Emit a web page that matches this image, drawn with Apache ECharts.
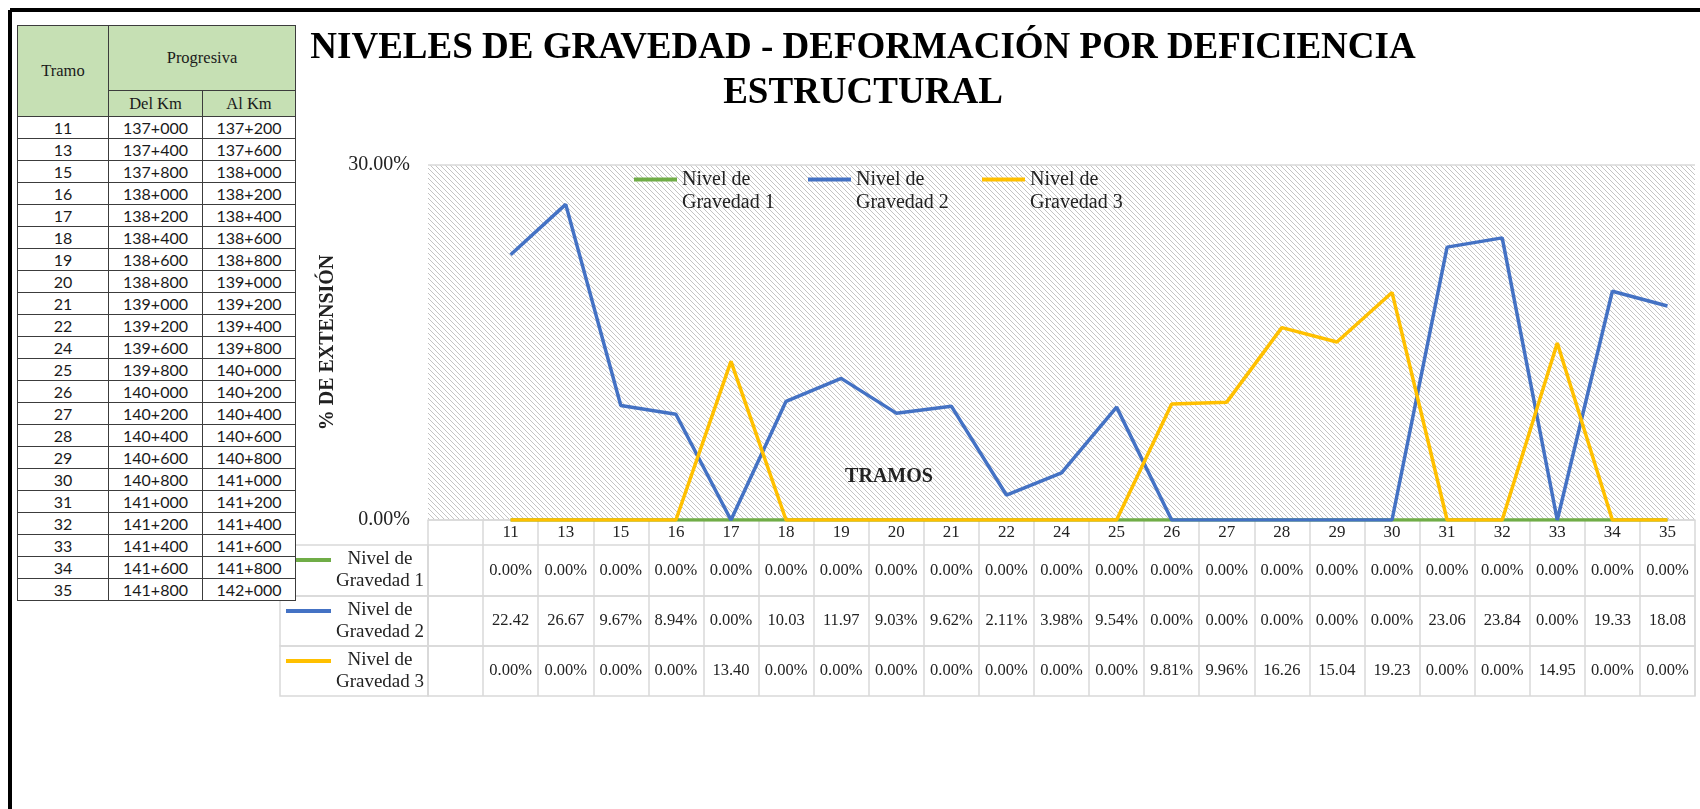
<!DOCTYPE html>
<html>
<head>
<meta charset="utf-8">
<script src="https://cdn.jsdelivr.net/npm/echarts/dist/echarts.min.js"></script>
<style>
  html, body { margin: 0; padding: 0; background: #fff; }
  #wrap { position: relative; width: 1700px; height: 809px; overflow: hidden; }
  #chart { position: absolute; left: 0; top: 0; width: 1700px; height: 809px; }
  #tabla { position: absolute; left: 17px; top: 25px; border-collapse: collapse; table-layout: fixed; background: #fff; }
  #tabla td, #tabla th { border: 1px solid #3c3c3c; padding: 0; text-align: center; color: #1a1a1a; }
  #tabla th { background: #c6e0b4; font-family: 'Liberation Serif', serif; font-weight: normal; font-size: 16.5px; }
  #tabla td { font-family: Lato, sans-serif; font-size: 16px; }
  #tabla tr.h1 { height: 65px; }
  #tabla tr.h2 { height: 26px; }
  #tabla tr.fila { height: 22px; }
</style>
</head>
<body>
<div id="wrap">
  <div id="chart"></div>
  <table id="tabla"></table>
</div>
<script>
// datos
var tramos = ['11', '13', '15', '16', '17', '18', '19', '20', '21', '22', '24', '25', '26', '27', '28', '29', '30', '31', '32', '33', '34', '35'];
var delKm = ['137+000', '137+400', '137+800', '138+000', '138+200', '138+400', '138+600', '138+800', '139+000', '139+200', '139+600',
             '139+800', '140+000', '140+200', '140+400', '140+600', '140+800', '141+000', '141+200', '141+400', '141+600', '141+800'];
var alKm = ['137+200', '137+600', '138+000', '138+200', '138+400', '138+600', '138+800', '139+000', '139+200', '139+400', '139+800',
            '140+000', '140+200', '140+400', '140+600', '140+800', '141+000', '141+200', '141+400', '141+600', '141+800', '142+000'];
var nivel1 = [0, 0, 0, 0, 0, 0, 0, 0, 0, 0, 0, 0, 0, 0, 0, 0, 0, 0, 0, 0, 0, 0];
var nivel2 = [22.42, 26.67, 9.67, 8.94, 0, 10.03, 11.97, 9.03, 9.62, 2.11, 3.98, 9.54, 0, 0, 0, 0, 0, 23.06, 23.84, 0, 19.33, 18.08];
var nivel3 = [0, 0, 0, 0, 13.40, 0, 0, 0, 0, 0, 0, 0, 9.81, 9.96, 16.26, 15.04, 19.23, 0, 0, 14.95, 0, 0];
var nombres = ['Nivel de\nGravedad 1', 'Nivel de\nGravedad 2', 'Nivel de\nGravedad 3'];
var colores = ['#70ad47', '#4472c4', '#ffc000'];
var yTicks = [0, 30];

var niveles = [nivel1, nivel2, nivel3];
var ejeX = [''].concat(tramos);   // first column of the chart is empty
var serif = 'Liberation Serif';
var gris = '#d9d9d9';

// left table
var html = '<colgroup><col style="width:91px"><col style="width:94px"><col style="width:93px"></colgroup>';
html += '<tr class="h1"><th rowspan="2">Tramo</th><th colspan="2">Progresiva</th></tr>';
html += '<tr class="h2"><th>Del Km</th><th>Al Km</th></tr>';
for (var i = 0; i < tramos.length; i++) {
  html += '<tr class="fila"><td>' + tramos[i] + '</td><td>' + delKm[i] + '</td><td>' + alKm[i] + '</td></tr>';
}
document.getElementById('tabla').innerHTML = html;

// hatch fill like the excel plot area
var patron = document.createElement('canvas');
patron.width = 5; patron.height = 5;
var ctx = patron.getContext('2d');
ctx.fillStyle = '#fff';
ctx.fillRect(0, 0, 5, 5);
ctx.strokeStyle = '#c4c4c4';
ctx.lineWidth = 1;
[-5, 0, 5].forEach(function (k) {
  ctx.beginPath(); ctx.moveTo(k, 0); ctx.lineTo(k + 5, 5); ctx.stroke();
});

function fmt(v) {
  // excel cuts the % off when the column is too narrow
  return v >= 10 ? v.toFixed(2) : v.toFixed(2) + '%';
}

var filas = [{ top: 545, h: 51 }, { top: 596, h: 50 }, { top: 646, h: 50 }];
var gLeft = 428, gWidth = 1267;

var grids = [{ left: gLeft, top: 165, width: gWidth, height: 355, show: true,
  backgroundColor: { image: patron, repeat: 'repeat' }, borderWidth: 0, outerBoundsMode: 'none' }];
var xAxes = [{
  gridIndex: 0, type: 'category', data: ejeX, boundaryGap: true,
  axisLine: { lineStyle: { color: gris, width: 1.5 } },
  axisTick: { show: true, interval: 0, length: 25, lineStyle: { color: gris, width: 1.5 } },
  axisLabel: { interval: 0, margin: 13, verticalAlign: 'middle', fontFamily: serif, fontSize: 17, color: '#222' },
  splitLine: { show: false }
}];
var yAxes = [{
  gridIndex: 0, type: 'value', min: yTicks[0], max: yTicks[1], interval: yTicks[1] - yTicks[0],
  axisLine: { show: false }, axisTick: { show: false },
  axisLabel: { formatter: function (v) { return v.toFixed(2) + '%'; }, fontFamily: serif, fontSize: 20, color: '#222', margin: 18 },
  splitLine: { show: true, lineStyle: { color: gris, width: 1.5 } },
  name: '% DE EXTENSIÓN', nameLocation: 'middle', nameGap: 88, nameRotate: 90,
  nameTextStyle: { fontFamily: serif, fontWeight: 'bold', fontSize: 20, color: '#222' }
}];
var graficos = [
  { type: 'line', shape: { x1: 10, y1: 10, x2: 1700, y2: 10 }, style: { stroke: '#000', lineWidth: 4 } },
  { type: 'line', shape: { x1: 10, y1: 10, x2: 10, y2: 809 }, style: { stroke: '#000', lineWidth: 4 } },
  { type: 'text', x: 889, y: 477, style: { text: 'TRAMOS', font: 'bold 20px "Liberation Serif"', fill: '#222', align: 'center', verticalAlign: 'middle' } }
];

filas.forEach(function (f, k) {
  grids.push({ left: gLeft, top: f.top, width: gWidth, height: f.h, show: true,
    borderColor: gris, borderWidth: 1.5, backgroundColor: 'transparent', outerBoundsMode: 'none' });
  xAxes.push({
    gridIndex: k + 1, type: 'category', data: ejeX, boundaryGap: true,
    axisLine: { show: false }, axisTick: { show: false },
    splitLine: { show: true, interval: 0, lineStyle: { color: gris, width: 1.5 } },
    axisLabel: {
      inside: true, interval: 0, margin: f.h / 2, verticalAlign: 'middle',
      fontFamily: serif, fontSize: 16.5, color: '#222',
      formatter: function (v, idx) { return idx === 0 ? '' : fmt(niveles[k][idx - 1]); }
    }
  });
  yAxes.push({ gridIndex: k + 1, type: 'value', show: false });
  // legend column of the data table
  graficos.push({ type: 'rect', shape: { x: 280, y: f.top, width: gLeft - 280, height: f.h },
    style: { fill: 'none', stroke: gris, lineWidth: 1.5 } });
  graficos.push({ type: 'line', shape: { x1: 286, y1: f.top + 15, x2: 331, y2: f.top + 15 },
    style: { stroke: colores[k], lineWidth: 4 } });
  graficos.push({ type: 'text', x: 380, y: f.top + f.h / 2,
    style: { text: nombres[k], font: '19px "Liberation Serif"', lineHeight: 22, fill: '#222', align: 'center', verticalAlign: 'middle' } });
});

var chart = echarts.init(document.getElementById('chart'));
var option = {
  animation: false,
  backgroundColor: '#fff',
  title: {
    text: 'NIVELES DE GRAVEDAD - DEFORMACIÓN POR DEFICIENCIA\nESTRUCTURAL',
    left: 858, top: 21, textAlign: 'center',
    textStyle: { fontFamily: serif, fontWeight: 'bold', fontSize: 37, lineHeight: 45, color: '#000' }
  },
  legend: {
    data: nombres, left: 629, top: 163, orient: 'horizontal',
    icon: 'path://M0,0L0,0M0,9.5L43,9.5L43,13.5L0,13.5ZM0,46',
    itemWidth: 43, itemHeight: 46, itemGap: 4,
    itemStyle: { borderWidth: 0 },
    textStyle: { fontFamily: serif, fontSize: 20, lineHeight: 23, color: '#222', width: 122 }
  },
  grid: grids,
  xAxis: xAxes,
  yAxis: yAxes,
  graphic: graficos,
  series: niveles.map(function (d, k) {
    return {
      name: nombres[k], type: 'line', xAxisIndex: 0, yAxisIndex: 0,
      data: [null].concat(d), symbol: 'none', color: colores[k],
      lineStyle: { width: 3.5, color: colores[k] }
    };
  })
};
chart.setOption(option);
</script>
</body>
</html>
